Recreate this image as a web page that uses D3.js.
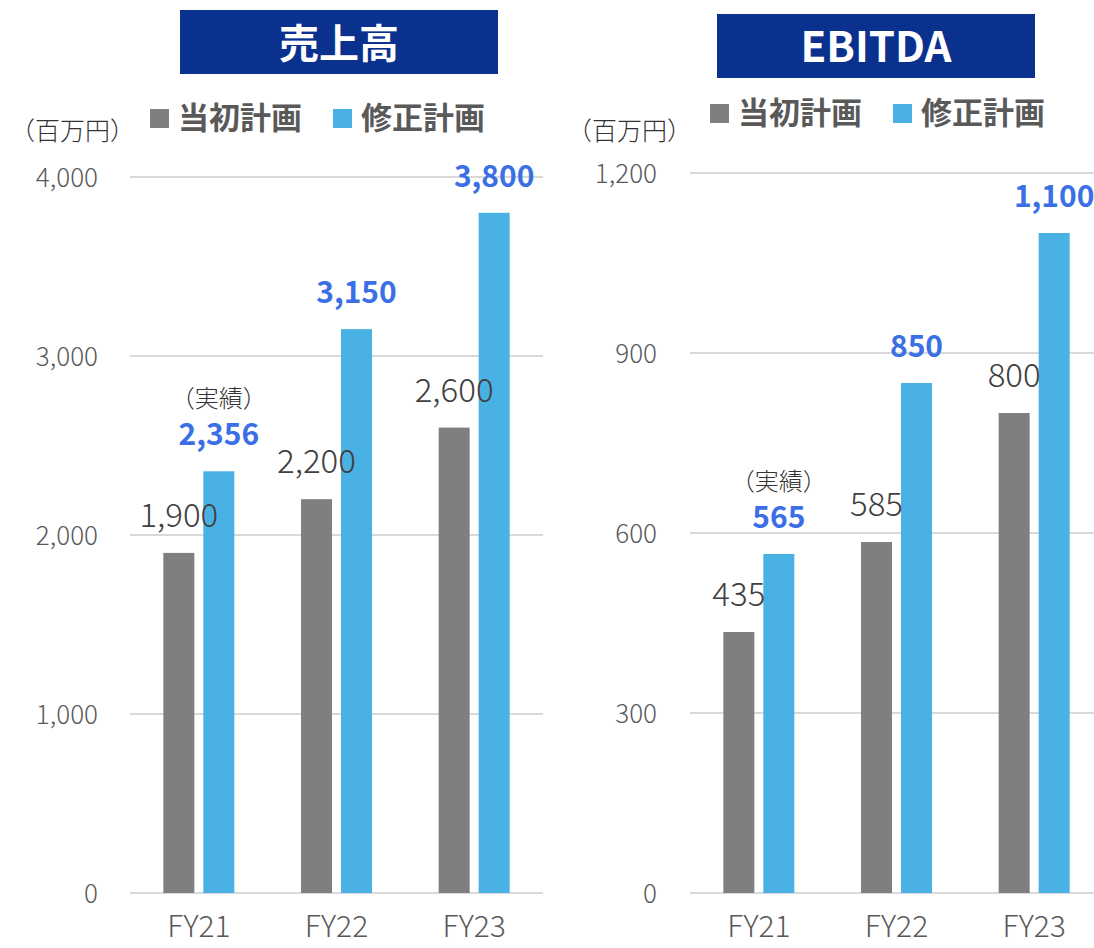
<!DOCTYPE html>
<html>
<head>
<meta charset="utf-8">
<script src="https://cdn.jsdelivr.net/npm/d3@7"></script>
<style>
    body { margin: 0; background: #fff; }
    svg text { font-family: "Noto Sans CJK JP", "Noto Sans", sans-serif; }
</style>
</head>
<body>
<svg id="chart" width="1094" height="948"></svg>
<script>
// data
const categories = ["FY21", "FY22", "FY23"];
const seriesNames = ["当初計画", "修正計画"];

const salesInitial = [1900, 2200, 2600];
const salesRevised = [2356, 3150, 3800];
const salesTicks = [0, 1000, 2000, 3000, 4000];

const ebitdaInitial = [435, 585, 800];
const ebitdaRevised = [565, 850, 1100];
const ebitdaTicks = [0, 300, 600, 900, 1200];

const actualNote = "（実績）";
const unitLabel = "（百万円）";

const grayCol = "#7f7f7f",
    blueCol = "#49b1e3",
    labelBlue = "#3b6fe6",
    navy = "#0b318f";

let svg = d3.select("#chart");

function drawPanel(opt) {
    let g = svg.append("g");

    // title box
    g.append("rect")
        .attr("x", opt.titleX).attr("y", opt.titleY)
        .attr("width", 318).attr("height", 64)
        .attr("fill", navy);
    g.append("text")
        .attr("x", opt.titleX + 159).attr("y", opt.titleY + 48)
        .attr("text-anchor", "middle")
        .attr("fill", "#fff")
        .style("font-size", opt.titleSize + "px")
        .style("font-weight", "bold")
        .text(opt.title);

    // legend
    let legend = g.append("g").attr("transform", "translate(" + opt.legendX + "," + opt.legendY + ")");
    [grayCol, blueCol].forEach(function (c, i) {
        let lx = i * 183;
        legend.append("rect")
            .attr("x", lx).attr("y", -19)
            .attr("width", 19).attr("height", 19)
            .attr("fill", c);
        legend.append("text")
            .attr("x", lx + 28).attr("y", 1)
            .attr("fill", "#595959")
            .style("font-size", "31px")
            .style("font-weight", "bold")
            .text(seriesNames[i]);
    });

    // unit
    g.append("text")
        .attr("x", opt.unitX).attr("y", opt.unitY)
        .attr("fill", "#333")
        .style("font-size", "25px")
        .style("font-weight", 300)
        .text(unitLabel);

    let x = d3.scaleBand()
        .domain(categories)
        .range([opt.left, opt.left + 413]);

    let y = d3.scaleLinear()
        .domain([0, opt.ticks[opt.ticks.length - 1]])
        .range([893, opt.yTop]);

    // grid
    g.append("g")
        .selectAll("line")
        .data(opt.ticks)
        .enter().append("line")
        .attr("x1", opt.left).attr("x2", opt.left + 413)
        .attr("y1", function (d) { return y(d); })
        .attr("y2", function (d) { return y(d); })
        .attr("stroke", "#d9d9d9")
        .attr("stroke-width", 2);

    // y axis labels
    let yAxis = g.append("g")
        .attr("transform", "translate(" + opt.tickX + ",0)")
        .call(d3.axisLeft(y).tickValues(opt.ticks).tickSize(0).tickPadding(0).tickFormat(d3.format(",")));
    yAxis.select(".domain").remove();
    yAxis.selectAll("text")
        .attr("fill", "#595959")
        .attr("dy", "0.36em")
        .style("font-size", "26px")
        .style("font-weight", 300)
        .style("font-family", "\"Noto Sans CJK JP\", sans-serif");

    // x axis labels
    let xAxis = g.append("g")
        .attr("transform", "translate(0,893)")
        .call(d3.axisBottom(x).tickSize(0).tickPadding(0));
    xAxis.select(".domain").remove();
    xAxis.selectAll("text")
        .attr("y", 44)
        .attr("dy", 0)
        .attr("fill", "#595959")
        .style("font-size", "30px")
        .style("font-weight", 300)
        .style("font-family", "\"Noto Sans CJK JP\", sans-serif");

    let barW = 31, gap = 9;
    let fmt = d3.format(",");
    let initX = function (d, i) { return x(categories[i]) + x.bandwidth() / 2 - gap / 2 - barW; };
    let revX = function (d, i) { return x(categories[i]) + x.bandwidth() / 2 + gap / 2; };

    // bars
    g.selectAll(".bar-init")
        .data(opt.initial)
        .enter().append("rect")
        .attr("class", "bar-init")
        .attr("x", initX)
        .attr("y", function (d) { return y(d); })
        .attr("width", barW)
        .attr("height", function (d) { return 893 - y(d); })
        .attr("fill", grayCol);

    g.selectAll(".bar-rev")
        .data(opt.revised)
        .enter().append("rect")
        .attr("class", "bar-rev")
        .attr("x", revX)
        .attr("y", function (d) { return y(d); })
        .attr("width", barW)
        .attr("height", function (d) { return 893 - y(d); })
        .attr("fill", blueCol);

    // value labels on top of bars
    g.selectAll(".lbl-init")
        .data(opt.initial)
        .enter().append("text")
        .attr("class", "lbl-init")
        .attr("x", function (d, i) { return initX(d, i) + barW / 2; })
        .attr("y", function (d) { return y(d) - 26; })
        .attr("text-anchor", "middle")
        .attr("fill", "#404040")
        .style("font-size", "33px")
        .style("font-weight", 300)
        .text(function (d) { return fmt(d); });

    g.selectAll(".lbl-rev")
        .data(opt.revised)
        .enter().append("text")
        .attr("class", "lbl-rev")
        .attr("x", function (d, i) { return revX(d, i) + barW / 2; })
        .attr("y", function (d) { return y(d) - 26; })
        .attr("text-anchor", "middle")
        .attr("fill", labelBlue)
        .style("font-size", "30px")
        .style("font-weight", "bold")
        .text(function (d) { return fmt(d); });

    // actual note above FY21 revised
    g.append("text")
        .attr("x", revX(0, 0) + barW / 2)
        .attr("y", y(opt.revised[0]) - 64)
        .attr("text-anchor", "middle")
        .attr("fill", "#333")
        .style("font-size", "24px")
        .style("font-weight", 300)
        .text(actualNote);
}

drawPanel({
    title: "売上高", titleSize: 40, titleX: 180, titleY: 10,
    legendX: 150, legendY: 128,
    unitX: 10, unitY: 140,
    left: 130, yTop: 177, tickX: 98,
    ticks: salesTicks, initial: salesInitial, revised: salesRevised
});

drawPanel({
    title: "EBITDA", titleSize: 42, titleX: 717, titleY: 14,
    legendX: 710, legendY: 123,
    unitX: 567, unitY: 140,
    left: 690, yTop: 173, tickX: 657,
    ticks: ebitdaTicks, initial: ebitdaInitial, revised: ebitdaRevised
});
</script>
</body>
</html>
